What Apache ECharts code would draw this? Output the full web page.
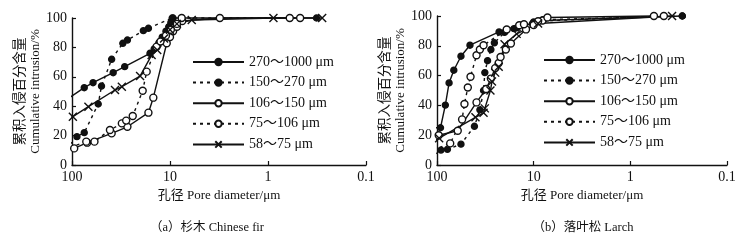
<!DOCTYPE html>
<html>
<head>
<meta charset="utf-8">
<script src="https://cdn.jsdelivr.net/npm/echarts@6/dist/echarts.min.js"></script>
<style>
  html, body { margin: 0; padding: 0; background: #fff; }
  #chart { width: 751px; height: 242px; }
</style>
</head>
<body>
<div id="chart"></div>
<script>
// legend names, shared by both panels
const seriesNames = ['270～1000 μm', '150～270 μm', '106～150 μm', '75～106 μm', '58～75 μm']

// (a) Chinese fir: [pore diameter μm, cumulative intrusion %]
const firA = [[105, 46], [75, 52.6], [61, 56], [38, 62.8], [29, 66.9], [16, 76], [14.5, 79], [13, 83], [12, 87], [11, 91], [10.3, 94], [9.8, 97], [9.3, 100], [0.32, 100]]
const firB = [[105, 14], [89, 19.3], [75, 22], [54, 41.5], [50, 53.7], [39.4, 71.9], [30.3, 82.8], [27.2, 85], [18.7, 91.4], [16.6, 93], [9.5, 100]]
const firC = [[105, 10], [95, 11.3], [70, 15.2], [39.4, 21.5], [27.2, 26], [16.6, 35.6], [14.8, 45.8], [10.8, 82.8], [10, 87], [9.3, 91], [8.5, 94], [7.5, 98], [3.1, 100], [0.6, 100]]
const firD = [[105, 12], [71.5, 15.9], [59, 15.9], [41, 23.8], [31, 28.3], [28, 30.2], [24, 33.3], [19, 50.5], [17.3, 63.5], [13.7, 80.5], [12.5, 84], [11, 88], [9.8, 92], [8.5, 96], [7.6, 100], [0.47, 100]]
const firE = [[105, 32.4], [98, 32.9], [68, 39.7], [36.4, 51], [31, 53.3], [20.2, 60.5], [15.4, 74.8], [13.5, 78.2], [11.5, 86], [10, 92], [8.5, 96], [6, 98.6], [0.88, 100], [0.28, 100]]

// (b) Larch
const larchA = [[110, 25], [92, 25], [82, 40.2], [75, 55.1], [67, 63.6], [56.5, 73], [45.6, 80.4], [22.8, 89.3], [16, 91.5], [10.3, 94.9], [8, 97], [0.29, 100]]
const larchB = [[107, 7], [91, 10], [78, 10.5], [56.5, 14], [41, 26], [36, 37], [33, 50], [32, 62], [30, 70], [27.7, 77.5], [25.5, 82], [20, 89], [15, 92], [10, 96], [8, 97.5], [0.29, 100]]
const larchC = [[110, 19], [96, 20], [61, 23], [39, 42], [31, 51], [27.7, 58], [25, 65], [23, 68.5], [22, 72.5], [19.4, 77.5], [17.2, 81.5], [12, 91], [10, 94], [8.1, 97], [7.2, 99], [0.57, 100]]
const larchD = [[110, 10], [73, 14.5], [55, 30.6], [52, 40.9], [48, 52], [45, 59.2], [39, 73.7], [36, 77.5], [33, 80.4], [19, 90.9], [14.1, 93.8], [12.6, 94.5], [9, 96.5], [0.45, 100]]
const larchE = [[110, 15.6], [95, 18], [40, 32], [33, 35], [32, 38], [28, 50], [27, 56], [25, 62], [23, 66], [20, 81], [15, 88], [9, 95], [0.37, 100]]

const yTicks = { min: 0, max: 100, interval: 20 }
const captions = ['（a）杉木 Chinese fir', '（b）落叶松 Larch']

const font = '"Liberation Serif", "Noto Sans CJK SC", serif'
const ink = '#111'

// marker / line look per legend entry
const looks = [
  { symbol: 'circle', size: 6, fill: ink, dash: 'solid' },
  { symbol: 'circle', size: 6, fill: ink, dash: [3, 4] },
  { symbol: 'circle', size: 7, fill: '#fff', dash: 'solid' },
  { symbol: 'circle', size: 7, fill: '#fff', dash: [3, 4] },
  { symbol: 'path://M0,0L10,10M10,0L0,10', size: 8, fill: 'none', dash: 'solid' }
]

function makeSeries(datasets, axisIndex) {
  return datasets.map((data, i) => {
    const lk = looks[i]
    return {
      name: seriesNames[i],
      type: 'line',
      xAxisIndex: axisIndex,
      yAxisIndex: axisIndex,
      data: data,
      clip: false,
      symbol: lk.symbol,
      // first point is just where the curve enters from outside the axis
      symbolSize: (v, p) => (p.dataIndex === 0 ? 0 : lk.size),
      showAllSymbol: true,
      lineStyle: { color: ink, width: 1.4, type: lk.dash },
      itemStyle: { color: lk.fill, borderColor: ink, borderWidth: 1.4 },
      emphasis: { disabled: true },
      animation: false
    }
  })
}

function makeX(idx) {
  return {
    type: 'log',
    gridIndex: idx,
    logBase: 10,
    min: 0.1,
    max: 100,
    inverse: true,
    axisLine: { show: true, lineStyle: { color: ink, width: 1.4 } },
    axisTick: { show: true, inside: true, length: 4, lineStyle: { color: ink, width: 1.2 } },
    minorTick: { show: false },
    splitLine: { show: false },
    axisLabel: { color: ink, fontSize: 14, fontFamily: font, margin: 5 },
    name: '孔径 Pore diameter/μm',
    nameLocation: 'middle',
    nameGap: 24,
    nameTextStyle: { color: ink, fontSize: 13, fontFamily: font }
  }
}

function makeY(idx) {
  return {
    type: 'value',
    gridIndex: idx,
    min: yTicks.min,
    max: yTicks.max,
    interval: yTicks.interval,
    axisLine: { show: true, lineStyle: { color: ink, width: 1.4 } },
    axisTick: { show: true, inside: true, length: 4, lineStyle: { color: ink, width: 1.2 } },
    splitLine: { show: false },
    axisLabel: { color: ink, fontSize: 14, fontFamily: font, margin: 5 },
    name: '{cn|累积入侵百分含量}\n{en|Cumulative intrusion/%}',
    nameLocation: 'middle',
    nameRotate: 90,
    nameGap: 28,
    nameTextStyle: {
      color: ink,
      fontFamily: font,
      rich: {
        cn: { fontSize: 13.5, fontFamily: '"Noto Sans CJK SC"', color: ink, lineHeight: 17 },
        en: { fontSize: 13, fontFamily: font, color: ink, lineHeight: 17 }
      }
    }
  }
}

function makeLegend(left, top) {
  return {
    data: seriesNames,
    orient: 'vertical',
    left: left,
    top: top,
    itemWidth: 51,
    itemHeight: 8,
    itemGap: 6.6,
    selectedMode: false,
    textStyle: { color: ink, fontSize: 14, fontFamily: font, lineHeight: 14 }
  }
}

const chart = echarts.init(document.getElementById('chart'), null, { renderer: 'canvas' })

chart.setOption({
  animation: false,
  grid: [
    { left: 72, right: 385, top: 18, bottom: 77 },
    { left: 437, right: 24, top: 16, bottom: 77 }
  ],
  xAxis: [makeX(0), makeX(1)],
  yAxis: [makeY(0), makeY(1)],
  legend: [makeLegend(187, 50), makeLegend(538, 48)],
  series: [
    ...makeSeries([firA, firB, firC, firD, firE], 0),
    ...makeSeries([larchA, larchB, larchC, larchD, larchE], 1)
  ],
  graphic: [
    { type: 'text', x: 207, y: 228, style: { text: captions[0], fill: ink, font: '12.5px ' + font, textAlign: 'center', textVerticalAlign: 'middle' } },
    { type: 'text', x: 583, y: 228, style: { text: captions[1], fill: ink, font: '12.5px ' + font, textAlign: 'center', textVerticalAlign: 'middle' } }
  ]
})
</script>
</body>
</html>
